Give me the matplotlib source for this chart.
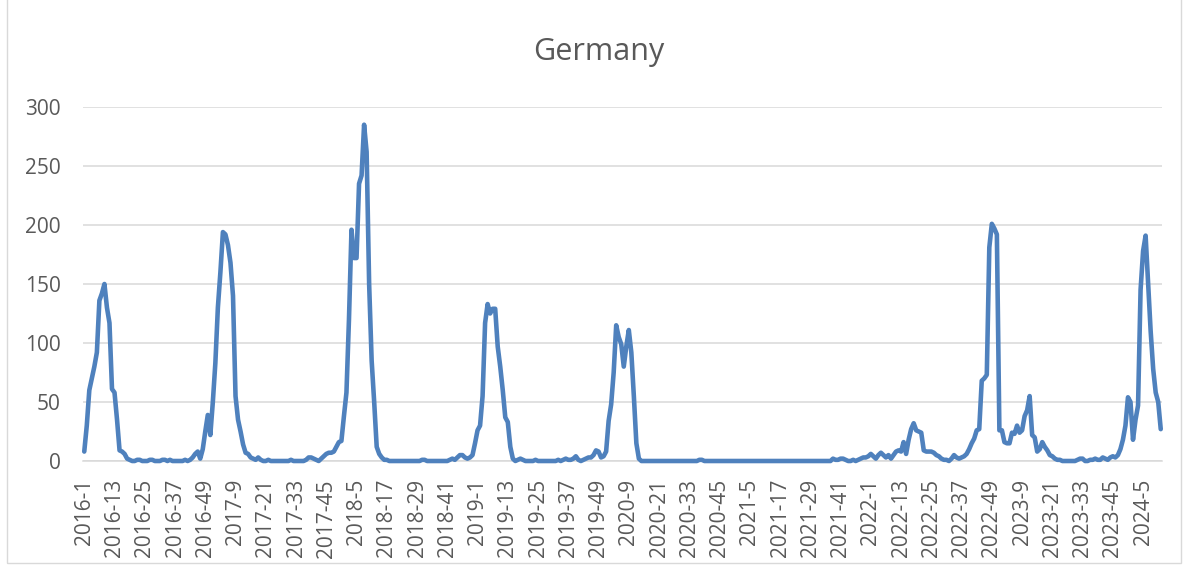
import matplotlib

matplotlib.use("Agg")

import matplotlib.pyplot as plt
from matplotlib.patches import Rectangle

# Weekly counts, one list per year (weeks 1..52; 2024 runs to week 12).
cases_2016 = [8, 30, 60, 70, 80, 92, 136, 142, 150, 130,
              117, 61, 58, 35, 9, 8, 6, 2, 1, 0,
              0, 1, 1, 0, 0, 0, 1, 1, 0, 0,
              0, 1, 1, 0, 1, 0, 0, 0, 0, 0,
              1, 0, 1, 3, 6, 8, 2, 10, 25, 39,
              22, 50]
cases_2017 = [83, 130, 160, 194, 192, 183, 168, 140, 55, 35,
              25, 14, 7, 6, 3, 2, 1, 3, 1, 0,
              0, 1, 0, 0, 0, 0, 0, 0, 0, 0,
              1, 0, 0, 0, 0, 0, 1, 3, 3, 2,
              1, 0, 2, 4, 6, 7, 7, 8, 12, 16,
              17, 38]
cases_2018 = [58, 120, 196, 172, 172, 235, 242, 285, 262, 150,
              85, 50, 12, 6, 3, 1, 1, 0, 0, 0,
              0, 0, 0, 0, 0, 0, 0, 0, 0, 0,
              1, 1, 0, 0, 0, 0, 0, 0, 0, 0,
              0, 1, 2, 1, 3, 5, 5, 3, 2, 3,
              5, 15]
cases_2019 = [26, 30, 55, 117, 133, 125, 129, 129, 97, 80,
              60, 37, 33, 12, 2, 0, 1, 2, 1, 0,
              0, 0, 0, 1, 0, 0, 0, 0, 0, 0,
              0, 0, 1, 0, 1, 2, 1, 1, 2, 4,
              1, 0, 1, 2, 3, 3, 5, 9, 8, 3,
              4, 8]
cases_2020 = [34, 48, 75, 115, 105, 99, 80, 97, 111, 92,
              55, 15, 2, 0, 0, 0, 0, 0, 0, 0,
              0, 0, 0, 0, 0, 0, 0, 0, 0, 0,
              0, 0, 0, 0, 0, 0, 1, 1, 0, 0,
              0, 0, 0, 0, 0, 0, 0, 0, 0, 0,
              0, 0]
cases_2021 = [0, 0, 0, 0, 0, 0, 0, 0, 0, 0,
              0, 0, 0, 0, 0, 0, 0, 0, 0, 0,
              0, 0, 0, 0, 0, 0, 0, 0, 0, 0,
              0, 0, 0, 0, 0, 0, 0, 2, 1, 1,
              2, 2, 1, 0, 0, 1, 0, 1, 2, 3,
              3, 4]
cases_2022 = [6, 4, 2, 5, 7, 5, 3, 5, 2, 5,
              8, 9, 8, 16, 6, 18, 27, 32, 26, 25,
              24, 9, 8, 8, 8, 7, 5, 4, 2, 1,
              1, 0, 2, 5, 3, 2, 3, 4, 6, 10,
              15, 19, 26, 27, 68, 70, 73, 181, 201, 197,
              192, 26]
cases_2023 = [26, 16, 15, 15, 24, 23, 30, 24, 26, 38,
              43, 55, 22, 20, 8, 10, 16, 12, 9, 5,
              4, 2, 1, 1, 0, 0, 0, 0, 0, 0,
              1, 2, 2, 0, 0, 1, 1, 2, 1, 1,
              3, 2, 1, 3, 4, 3, 5, 10, 18, 30,
              54, 50]
cases_2024 = [18, 35, 47, 145, 178, 191, 150, 110, 78, 58, 50, 27]

years = [2016, 2017, 2018, 2019, 2020, 2021, 2022, 2023, 2024]
yearly = [cases_2016, cases_2017, cases_2018, cases_2019, cases_2020,
          cases_2021, cases_2022, cases_2023, cases_2024]

week_labels = []
values = []
for year, cases in zip(years, yearly):
    for week, count in enumerate(cases, start=1):
        week_labels.append(f"{year}-{week}")
        values.append(count)

LINE_COLOR = "#4F81BD"
TEXT_COLOR = "#595959"
GRID_COLOR = "#D9D9D9"
FONT = ["Open Sans", "DejaVu Sans"]

plt.rcParams["font.family"] = FONT

fig = plt.figure(figsize=(11.84, 5.66), dpi=100)
ax = fig.add_axes([83 / 1184, 105 / 566, (1162 - 83) / 1184, (461 - 107) / 566])

positions = list(range(len(values)))
ax.plot(positions, values, color=LINE_COLOR, linewidth=3.3,
        solid_joinstyle="round", solid_capstyle="round", clip_on=False, zorder=3)

ax.set_xlim(-0.5, len(values) - 0.5)
ax.set_ylim(0, 300)
ax.set_yticks(range(0, 301, 50))
ax.set_xticks(positions[::12])
ax.set_xticklabels(week_labels[::12], rotation=90, va="top", ha="center")

ax.yaxis.grid(True, color=GRID_COLOR, linewidth=1.1)
ax.set_axisbelow(True)
for side in ("top", "right", "left"):
    ax.spines[side].set_visible(False)
ax.spines["bottom"].set_color(GRID_COLOR)
ax.spines["bottom"].set_linewidth(1.1)

ax.tick_params(axis="both", length=0, colors=TEXT_COLOR, labelsize=15)
ax.tick_params(axis="y", pad=16)
ax.tick_params(axis="x", pad=13)

fig.text(599 / 1184, 1 - 52 / 566, "Germany", ha="center", va="center",
         fontsize=22, color=TEXT_COLOR)

# light border round the whole chart area
fig.patches.append(Rectangle((7 / 1184, 3 / 566), (1181 - 7) / 1184, 1.0,
                             transform=fig.transFigure, fill=False,
                             edgecolor=GRID_COLOR, linewidth=1.0))

fig.savefig("out.png", dpi=100)
